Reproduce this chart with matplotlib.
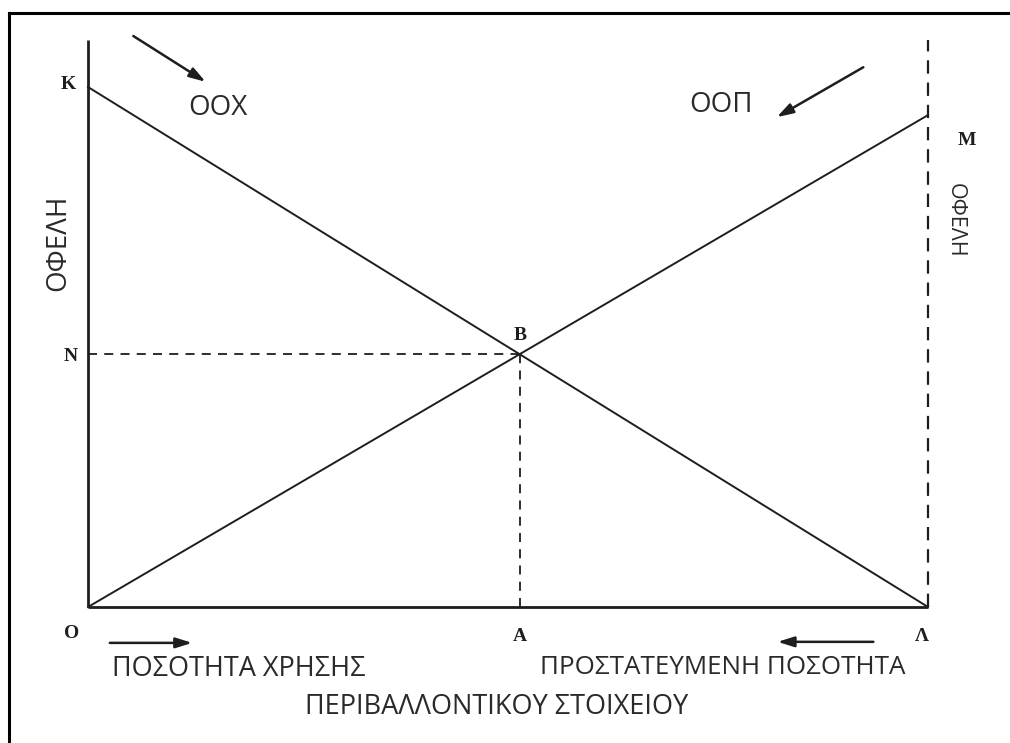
import matplotlib
matplotlib.use("Agg")
import matplotlib.pyplot as plt
from matplotlib.lines import Line2D

# Benefit curves: marginal benefit of use (OOX) falls from K to zero at Λ,
# marginal benefit of protection (OOП) rises from zero to M.
x_max = 10.0          # Λ, total quantity of the environmental resource
k_value = 10.0        # K, OOX at zero use
m_value = 9.46        # M, OOП at full protection
axis_top = 10.9

curve_names = ["ΟΟΧ", "ΟΟΠ"]
y_label = "ΟΦΕΛΗ"
use_label = "ΠΟΣΟΤΗΤΑ ΧΡΗΣΗΣ"
protect_label = "ΠΡΟΣΤΑΤΕΥΜΕΝΗ ΠΟΣΟΤΗΤΑ"
resource_label = "ΠΕΡΙΒΑΛΛΟΝΤΙΚΟΥ ΣΤΟΙΧΕΙΟΥ"

# intersection of the two straight lines
b_x = k_value / (1 + m_value / x_max)
b_y = m_value * b_x / x_max

W, H = 1010, 743
X0, SX = 88, 84       # pixel of origin, pixels per unit
Y0, SY = 607, 52

fig = plt.figure(figsize=(W / 100, H / 100), dpi=100, facecolor="white")
ax = fig.add_axes([0, 0, 1, 1])
ax.set_xlim(-X0 / SX, (W - X0) / SX)
ax.set_ylim((Y0 - H) / SY, Y0 / SY)
ax.set_axis_off()

ink = "#1e1e1e"
sans = ["Open Sans", "DejaVu Sans"]
serif = ["Liberation Serif", "DejaVu Serif"]

# frame around the figure (left and top edges only)
fig.add_artist(Line2D([9 / W, 9 / W], [0, 1 - 13 / H], transform=fig.transFigure,
                      color="black", lw=2.2))
fig.add_artist(Line2D([9 / W, 1], [1 - 13 / H, 1 - 13 / H], transform=fig.transFigure,
                      color="black", lw=2.2))

# axes
ax.plot([0, 0], [0, axis_top], color=ink, lw=2.0, solid_capstyle="butt")
ax.plot([0, x_max], [0, 0], color=ink, lw=2.0, solid_capstyle="butt")
ax.plot([x_max, x_max], [0, axis_top], color=ink, lw=1.6, dashes=(6, 4))

# benefit lines
ax.plot([0, x_max], [k_value, 0], color=ink, lw=1.4)
ax.plot([0, x_max], [0, m_value], color=ink, lw=1.4)

# equilibrium guides
ax.plot([0, b_x], [b_y, b_y], color=ink, lw=1.3, dashes=(5, 4))
ax.plot([b_x, b_x], [0, b_y], color=ink, lw=1.3, dashes=(5, 4))

# point labels
lab = dict(fontsize=14, fontweight="bold", family=serif, color=ink,
           ha="center", va="center")
ax.text(-0.24, k_value + 0.04, "K", **lab)
ax.text(-0.21, b_y - 0.05, "N", **lab)
ax.text(-0.19, -0.5, "O", **lab)
ax.text(b_x, -0.56, "A", **lab)
ax.text(x_max - 0.07, -0.56, "Λ", **lab)
ax.text(b_x, b_y + 0.36, "B", **lab)
ax.text(x_max + 0.46, m_value - 0.48, "M", **lab)

txt = dict(family=sans, color="#2a2a2a", va="center")
ax.text(1.55, 9.6, curve_names[0], fontsize=20, ha="center", **txt)
ax.text(7.54, 9.65, curve_names[1], fontsize=20, ha="center", **txt)
ax.text(-0.36, 7.0, y_label, fontsize=20, rotation=90, ha="center", **txt)
ax.text(10.32, 7.44, y_label, fontsize=15.5, rotation=-90, ha="center", **txt)
ax.text(0.286, -1.19, use_label, fontsize=19.5, ha="left", **txt)
ax.text(9.73, -1.17, protect_label, fontsize=18.7, ha="right", **txt)
ax.text(4.86, -1.92, resource_label, fontsize=19.5, ha="center", **txt)

# direction arrows
arrow = dict(arrowstyle="-|>,head_length=0.7,head_width=0.22", color=ink,
             lw=1.8, shrinkA=0, shrinkB=0, mutation_scale=14)
ax.annotate("", xy=(1.40, 10.10), xytext=(0.54, 10.98), arrowprops=arrow)
ax.annotate("", xy=(8.20, 9.42), xytext=(9.23, 10.38), arrowprops=arrow)
ax.annotate("", xy=(1.24, -0.69), xytext=(0.26, -0.69), arrowprops=arrow)
ax.annotate("", xy=(8.21, -0.67), xytext=(9.35, -0.67), arrowprops=arrow)

fig.savefig("out.png", dpi=100, facecolor="white")
